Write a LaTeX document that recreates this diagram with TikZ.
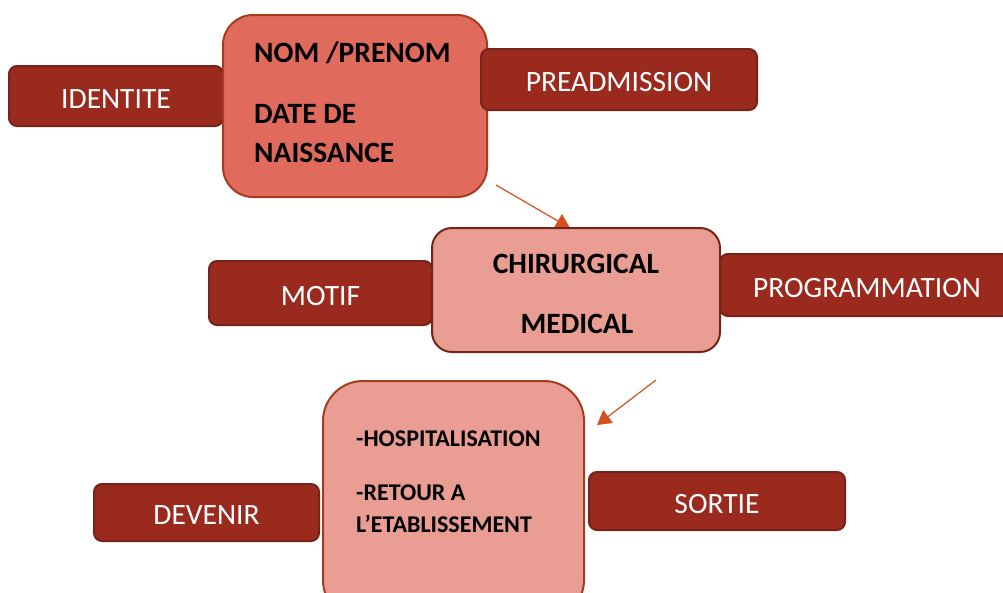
\documentclass[tikz,border=0pt]{standalone}
\usepackage{fontspec}
\setmainfont{Carlito}
\usetikzlibrary{arrows.meta}
\definecolor{darkred}{HTML}{9A2A1E}
\definecolor{darkline}{HTML}{76231A}
\definecolor{salmon}{HTML}{E06B5D}
\definecolor{pinkbox}{HTML}{EA9D93}
\definecolor{rustline}{HTML}{A63C1E}
\definecolor{arrowred}{HTML}{D5501F}

\begin{document}
\begin{tikzpicture}[x=1pt, y=-1pt,
	tag/.style={draw=darkline, fill=darkred, line width=2pt, rounded corners=8pt, text=white,
		font=\fontsize{29.5}{35}\selectfont, text height=24pt, text depth=0pt, inner sep=0pt},
	bigbox/.style={line width=2pt, inner sep=0pt},
	boldtxt/.style={font=\fontsize{29.5}{35}\selectfont\bfseries, inner sep=0pt},
	smalltxt/.style={font=\fontsize{24}{28}\selectfont\bfseries, inner sep=0pt, anchor=base west},
	link/.style={arrowred, line width=1.2pt, -{Triangle[length=14pt,width=16pt]}}]

	\clip (0,0) rectangle (1003,592);

	% identite
	\node[tag, minimum width=214pt, minimum height=60pt] (identite) at (116,96) {IDENTITE};
	\node[bigbox, draw=rustline, fill=salmon, rounded corners=30pt, minimum width=264pt, minimum height=182pt] (etat) at (355,106) {};
	\node[boldtxt, anchor=base west] (nom) at (254,62) {NOM /PRENOM};
	\node[boldtxt, anchor=base west] (date) at (254,123) {DATE DE};
	\node[boldtxt, anchor=base west] (naiss) at (254,162) {NAISSANCE};
	\node[tag, minimum width=276pt, minimum height=61pt] (preadm) at (619,79.5) {PREADMISSION};

	\coordinate (a1) at (496,185);
	\coordinate (a1e) at (570,228);
	\draw[link] (a1) -- (a1e);

	% motif
	\node[tag, minimum width=223pt, minimum height=64pt] (motif) at (320.5,293) {MOTIF};
	\node[bigbox, draw=darkline, fill=pinkbox, rounded corners=20pt, minimum width=288pt, minimum height=124pt] (type) at (576,290) {};
	\node[boldtxt, anchor=base] (chir) at (576,273) {CHIRURGICAL};
	\node[boldtxt, anchor=base] (med) at (577,333) {MEDICAL};
	\node[tag, minimum width=294pt, minimum height=62pt] (prog) at (867,285) {PROGRAMMATION};

	\coordinate (a2) at (656,380);
	\coordinate (a2e) at (597,425);
	\draw[link] (a2) -- (a2e);

	% devenir
	\node[tag, minimum width=225pt, minimum height=57pt] (devenir) at (206.5,512.5) {DEVENIR};
	\node[bigbox, draw=rustline, fill=pinkbox, rounded corners=40pt, minimum width=261pt, minimum height=239pt] (issue) at (453.5,500.5) {};
	\node[smalltxt] (hosp) at (356,446) {-HOSPITALISATION};
	\node[smalltxt] (retour) at (356,500) {-RETOUR A};
	\node[smalltxt] (etab) at (356,532) {L’ETABLISSEMENT};
	\node[tag, minimum width=256pt, minimum height=58pt] (sortie) at (717,501) {SORTIE};
\end{tikzpicture}
\end{document}
